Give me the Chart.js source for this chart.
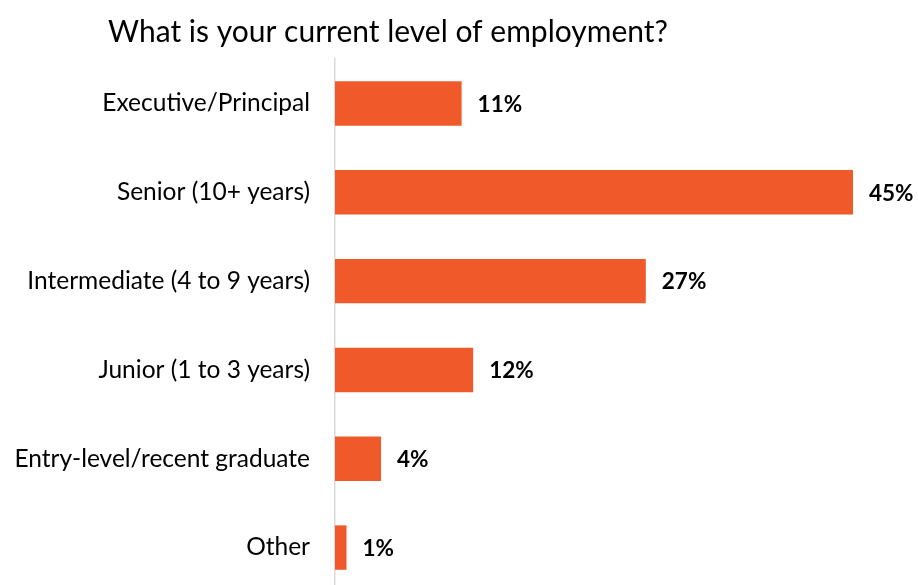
<!DOCTYPE html>
<html>
<head>
<meta charset="utf-8">
<script src="https://cdn.jsdelivr.net/npm/chart.js@4.4.1/dist/chart.umd.min.js"></script>
<style>
  html, body { margin: 0; padding: 0; background: #fff; overflow: hidden; }
  #wrap { width: 918px; height: 592px; }
</style>
</head>
<body>
<div id="wrap"><canvas id="chart-main" width="918" height="592"></canvas></div>
<script>
/* global Chart */

const chartTitle = "What is your current level of employment?";
const levels = [
  "Executive/Principal",
  "Senior (10+ years)",
  "Intermediate (4 to 9 years)",
  "Junior (1 to 3 years)",
  "Entry-level/recent graduate",
  "Other",
];
const shares = [11, 45, 27, 12, 4, 1];

const FONT = "Lato, 'Open Sans', sans-serif";
const BAR_COLOR = "#F05A2B";

// title sits above the plot, centred a little left of the canvas middle
const titlePlugin = {
  id: "topTitle",
  afterDraw(chart) {
    const ctx = chart.ctx;
    ctx.save();
    ctx.font = `30px ${FONT}`;
    ctx.fillStyle = "#000";
    ctx.textAlign = "center";
    ctx.textBaseline = "alphabetic";
    ctx.fillText(chartTitle, 388, 42);
    ctx.restore();
  },
};

// percentage printed just past the end of each bar
const valueLabels = {
  id: "valueLabels",
  afterDatasetsDraw(chart) {
    const ctx = chart.ctx;
    const meta = chart.getDatasetMeta(0);
    ctx.save();
    ctx.font = `bold 22.5px ${FONT}`;
    ctx.fillStyle = "#000";
    ctx.textAlign = "left";
    ctx.textBaseline = "middle";
    meta.data.forEach((bar, i) => {
      ctx.fillText(`${shares[i]}%`, bar.x + 16, bar.y + 1);
    });
    ctx.restore();
  },
};

const ctx = document.getElementById("chart-main").getContext("2d");
new Chart(ctx, {
  type: "bar",
  data: {
    labels: levels,
    datasets: [
      {
        data: shares,
        backgroundColor: BAR_COLOR,
        borderWidth: 0,
        barPercentage: 0.5,
        categoryPercentage: 1,
      },
    ],
  },
  options: {
    indexAxis: "y",
    responsive: false,
    animation: false,
    layout: { padding: { top: 59, right: 65, bottom: 0, left: 0 } },
    plugins: {
      legend: { display: false },
      tooltip: { enabled: false },
    },
    scales: {
      x: {
        min: 0,
        max: 45,
        display: false,
      },
      y: {
        grid: { display: false, drawTicks: false },
        border: { color: "#d9d9d9", width: 1.5 },
        afterFit(scale) {
          // fixed label column; tick padding shouldn't eat the plot height
          scale.width = 335;
          scale.paddingTop = 0;
          scale.paddingBottom = 0;
        },
        ticks: {
          color: "#000",
          padding: 25,
          font: { family: FONT, size: 24.5 },
        },
      },
    },
  },
  plugins: [titlePlugin, valueLabels],
});
</script>
</body>
</html>
